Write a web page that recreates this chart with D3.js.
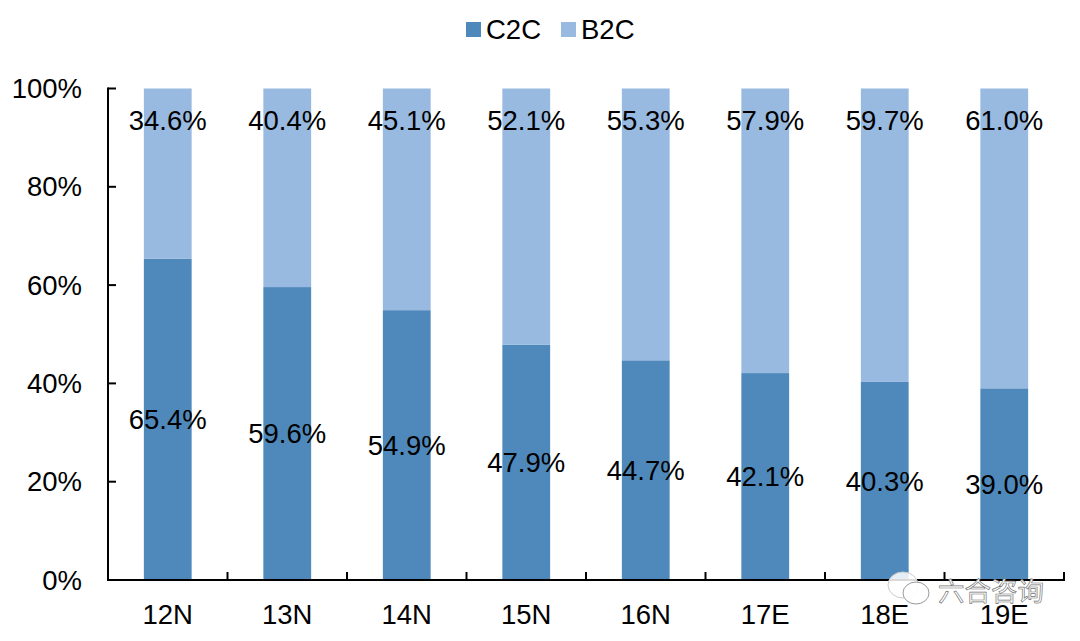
<!DOCTYPE html>
<html><head><meta charset="utf-8">
<script src="https://d3js.org/d3.v7.min.js"></script>
<style>html,body{margin:0;padding:0;background:#fff}svg{display:block}text{font-family:"Liberation Sans",Arial,sans-serif;fill:#000}</style>
</head><body><svg id="c" width="1080" height="641"></svg>
<script>
const categories=["12N","13N","14N","15N","16N","17E","18E","19E"];
const c2c=[65.4,59.6,54.9,47.9,44.7,42.1,40.3,39.0];
const b2c=[34.6,40.4,45.1,52.1,55.3,57.9,59.7,61.0];
const yTicks=[0,20,40,60,80,100];
const colors={C2C:"#4f89bb",B2C:"#98b9e0"};
const b2cLabelLevel=93.6;

const svg=d3.select("#c");
const x=d3.scaleBand().domain(categories).range([108,1064]).paddingInner(0.6).paddingOuter(0.3);
const band=d3.scaleBand().domain(categories).range([108,1064]);
const y=d3.scaleLinear().domain([0,100]).range([580,88.5]);
const fs=27.5;

svg.append("g").selectAll("rect").data(categories).join("rect")
 .attr("x",d=>x(d)).attr("width",x.bandwidth())
 .attr("y",(d,i)=>y(c2c[i])).attr("height",(d,i)=>y(0)-y(c2c[i])).attr("fill",colors.C2C);
svg.append("g").selectAll("rect").data(categories).join("rect")
 .attr("x",d=>x(d)).attr("width",x.bandwidth())
 .attr("y",y(100)).attr("height",(d,i)=>y(c2c[i])-y(100)).attr("fill",colors.B2C);

// axes
const ax=svg.append("g").attr("fill","none").attr("stroke","#000").attr("stroke-width",2);
ax.append("line").attr("x1",108).attr("x2",108).attr("y1",y(100)-1).attr("y2",y(0)+1);
ax.append("line").attr("x1",107).attr("x2",1065).attr("y1",y(0)).attr("y2",y(0));
ax.selectAll(".yt").data(yTicks).join("line").attr("class","yt")
 .attr("x1",108).attr("x2",116).attr("y1",d=>y(d)).attr("y2",d=>y(d));
ax.selectAll(".xt").data(categories).join("line").attr("class","xt")
 .attr("x1",d=>band(d)+band.bandwidth()).attr("x2",d=>band(d)+band.bandwidth())
 .attr("y1",y(0)).attr("y2",y(0)-8);

svg.append("g").selectAll("text").data(yTicks).join("text")
 .attr("x",82).attr("y",d=>y(d)).attr("dy","0.35em").attr("text-anchor","end")
 .attr("font-size",fs).text(d=>d+"%");
svg.append("g").selectAll("text").data(categories).join("text")
 .attr("x",d=>x(d)+x.bandwidth()/2).attr("y",624).attr("text-anchor","middle")
 .attr("font-size",fs).text(d=>d);

svg.append("g").selectAll("text").data(categories).join("text")
 .attr("x",d=>x(d)+x.bandwidth()/2).attr("y",(d,i)=>y(c2c[i]/2)).attr("dy","0.35em").attr("text-anchor","middle")
 .attr("font-size",fs).text((d,i)=>c2c[i].toFixed(1)+"%");
svg.append("g").selectAll("text").data(categories).join("text")
 .attr("x",d=>x(d)+x.bandwidth()/2).attr("y",y(b2cLabelLevel)).attr("dy","0.35em").attr("text-anchor","middle")
 .attr("font-size",fs).text((d,i)=>b2c[i].toFixed(1)+"%");

// legend
const lg=svg.append("g");
[["C2C",466,486],["B2C",561,581]].forEach(([k,sx,tx])=>{
 lg.append("rect").attr("x",sx).attr("y",22).attr("width",15).attr("height",15).attr("fill",colors[k]);
 lg.append("text").attr("x",tx).attr("y",39).attr("font-size",fs).text(k);
});

// watermark
const wm=svg.append("g");
wm.append("ellipse").attr("cx",903).attr("cy",585).attr("rx",15).attr("ry",13).attr("fill","#fff").attr("fill-opacity",.85).attr("stroke","#ccc");
wm.append("ellipse").attr("cx",916).attr("cy",593).attr("rx",13).attr("ry",11).attr("fill","#fff").attr("fill-opacity",.9).attr("stroke","#999");
wm.append("text").attr("x",938).attr("y",601).attr("font-size",26.5)
 .style("font-family",'"Noto Sans CJK SC"').style("fill","#fff").attr("stroke","#777").attr("stroke-width",.7).text("六合咨询");
</script></body></html>
